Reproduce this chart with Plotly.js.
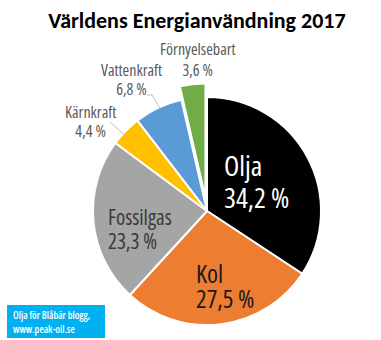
<!DOCTYPE html>
<html>
<head>
<meta charset="utf-8">
<script src="https://cdn.plot.ly/plotly-3.0.1.min.js"></script>
<style>
html,body{margin:0;padding:0;background:#fff;}
#chart{width:381px;height:340px;}
.annotation-text{font-stretch:75%;}
</style>
</head>
<body>
<div id="chart"></div>
<script>
// Data
var labels = ["Olja", "Kol", "Fossilgas", "Kärnkraft", "Vattenkraft", "Förnyelsebart"];
var values = [34.2, 27.5, 23.3, 4.4, 6.8, 3.6];
var titleText = "Världens Energianvändning 2017";
var sourceLines = ["Olja för Blåbär blogg,", "www.peak-oil.se"];

// Styles
var colors = ["#000000", "#ed7d31", "#a5a5a5", "#ffc000", "#5b9bd5", "#70ad47"];
var pulls = [0, 0, 0, 0, 0, 0.12];
var W = 381, H = 340;
var FONT = "Open Sans, sans-serif";

function fmt(v) { return v.toFixed(1).replace(".", ",") + " %"; }
function px(x) { return x / W; }
function py(y) { return 1 - y / H; }

// label placement per slice: [x, yCenter, anchor, glyph size, line spacing px, color]
var labelPos = [
  [223, 181, "left", 28, 32, "#ffffff"],
  [195, 285.5, "left", 25, 25, "#1a1a1a"],
  [107, 229, "left", 21, 24, "#3a3a3a"],
  [90, 121.5, "center", 16, 19, "#595959"],
  [131, 79.5, "center", 16, 19, "#595959"],
  [198, 59.5, "center", 16, 21, "#595959"]
];

function twoLine(a, b, size) {
  var s = '<span style="font-size:' + size + 'px">';
  return s + a + '</span><br>' + s + b + '</span>';
}

var annotations = [];
labels.forEach(function (lab, i) {
  var p = labelPos[i];
  annotations.push({
    text: twoLine(lab, fmt(values[i]), p[3]),
    xref: "paper", yref: "paper",
    x: px(p[0]), y: py(p[1]), xanchor: p[2], yanchor: "middle", align: p[2],
    showarrow: false, borderpad: 0,
    font: {family: FONT, size: p[4] / 1.3, color: p[5]}
  });
});
annotations.push({
  text: twoLine(sourceLines[0], sourceLines[1], 10),
  xref: "paper", yref: "paper",
  x: px(12), y: py(322), xanchor: "left", yanchor: "middle", align: "left",
  showarrow: false, borderpad: 0,
  font: {family: FONT, size: 14 / 1.3, color: "#ffffff", weight: 600}
});

function pathPx(pts) {
  return pts.map(function (p, i) { return (i ? "L" : "M") + px(p[0]) + "," + py(p[1]); }).join(" ");
}

var shapes = [
  {type: "rect", xref: "paper", yref: "paper", x0: px(7), x1: px(105), y0: py(305), y1: py(338),
   fillcolor: "#00b0f0", line: {width: 0}, layer: "below"},
  {type: "path", xref: "paper", yref: "paper", path: pathPx([[147, 95], [152, 95], [160, 108]]),
   line: {color: "#bfbfbf", width: 1}},
  {type: "path", xref: "paper", yref: "paper", path: pathPx([[110, 122], [126, 136]]),
   line: {color: "#bfbfbf", width: 1}}
];

var trace = {
  type: "pie",
  labels: labels,
  values: values,
  sort: false,
  direction: "clockwise",
  rotation: 0,
  pull: pulls,
  textinfo: "none",
  hoverinfo: "label+percent",
  marker: {colors: colors, line: {color: "#ffffff", width: 2}},
  domain: {x: [0.2081, 0.8785], y: [0.0038, 0.755]},
  showlegend: false
};

var layout = {
  width: W, height: H,
  margin: {l: 0, r: 0, t: 0, b: 0},
  paper_bgcolor: "#ffffff",
  title: {text: titleText, x: px(197), xanchor: "center", y: py(20), yanchor: "middle",
          yref: "container", xref: "container",
          font: {family: "Carlito, Lato, sans-serif", size: 22, color: "#000000", weight: "bold"}},
  annotations: annotations,
  shapes: shapes,
  showlegend: false
};

Plotly.newPlot("chart", [trace], layout, {displayModeBar: false, staticPlot: true});
</script>
</body>
</html>
